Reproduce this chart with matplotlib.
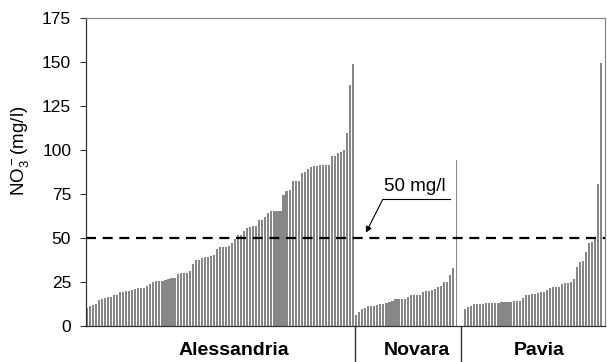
import numpy as np
import matplotlib
matplotlib.use("Agg")
import matplotlib.pyplot as plt
from matplotlib.transforms import blended_transform_factory

plt.rcParams['font.family'] = ['Liberation Sans', 'DejaVu Sans']
plt.rcParams['mathtext.default'] = 'regular'

# NO3 concentrations (mg/l), sorted per province
alessandria = [10.4, 11.4, 11.9, 12.5, 14.6, 15.5, 16.1, 16.7, 16.7, 17.4,
               17.4, 19.5, 19.5, 19.7, 20.1, 20.6, 20.8, 21.4, 21.4, 21.4,
               22.7, 23.7, 25.0, 25.6, 25.6, 25.8, 26.1, 26.9, 27.0, 27.5,
               29.5, 30.1, 30.1, 30.1, 31.2, 35.2, 37.3, 37.7, 38.4, 39.0,
               39.4, 39.8, 40.5, 43.9, 44.7, 44.7, 44.7, 45.3, 47.0, 49.2,
               51.7, 51.9, 53.8, 55.5, 56.4, 57.0, 57.0, 60.2, 60.2,
               61.7, 64.4, 65.3, 65.3, 65.3, 65.3, 74.2, 76.7, 77.3, 82.2,
               82.2, 82.2, 86.9, 87.7, 89.0, 90.2, 90.9, 91.0, 91.7, 91.7,
               91.7, 91.7, 96.4, 96.4, 98.1, 98.9, 100.0, 109.5, 137.1, 148.7]
novara = [6.3, 8.1, 9.5, 10.4, 11.4, 11.4, 11.4, 11.9, 12.3, 12.5,
          13.3, 13.6, 14.4, 15.5, 15.5, 15.5, 15.5, 16.7, 17.4, 17.4,
          17.4, 17.4, 19.5, 19.9, 20.0, 20.5, 20.8, 22.2, 22.9, 24.8,
          24.8, 29.0, 33.1, 94.3]
pavia = [9.8, 10.6, 11.4, 12.3, 12.3, 12.3, 12.3, 12.9, 13.3, 13.3,
         13.3, 13.3, 13.6, 13.6, 13.6, 13.6, 14.4, 14.4, 14.4, 15.9,
         17.4, 17.8, 18.0, 18.2, 18.9, 19.3, 19.5, 20.5, 21.4, 22.0,
         22.0, 22.0, 23.7, 24.2, 24.6, 25.2, 26.9, 33.7, 36.5, 37.1,
         42.0, 47.0, 47.9, 49.6, 80.7, 149.2]
groups = ["Alessandria", "Novara", "Pavia"]
limit = 50

fig = plt.figure(figsize=(6.07, 3.62), dpi=100)
ax = fig.add_axes([0.1412, 0.0994, 0.8555, 0.8509])

gap = 2
x_a = np.arange(len(alessandria))
x_n = np.arange(len(novara)) + len(alessandria)
x_p = np.arange(len(pavia)) + x_n[-1] + 1 + gap
bar_w = 0.7
ax.bar(x_a, alessandria, width=bar_w, color='#878787', linewidth=0)
widths_n = np.full(len(novara), bar_w)
widths_n[-1] = 0.35
ax.bar(x_n, novara, width=widths_n, color='#878787', linewidth=0)
ax.bar(x_p, pavia, width=bar_w, color='#878787', linewidth=0)

xmax = x_p[-1] + 1.2
ax.set_xlim(-0.35, xmax)
ax.set_ylim(0, 175)
ax.axhline(limit, color='black', linestyle=(0, (4.5, 3)), linewidth=1.6, zorder=3)

# group separators below the axis
trans = blended_transform_factory(ax.transData, ax.transAxes)
for xs in [x_n[0] - 0.3, x_n[-1] + 1.5]:
    ax.plot([xs, xs], [0, -0.12], color='#333333', lw=1, transform=trans, clip_on=False)
centers = [(x_a[0] + x_a[-1]) / 2 + 4.5, (x_n[0] + x_n[-1]) / 2 + 3.5, (x_p[0] + x_p[-1]) / 2 + 2]
for c, g in zip(centers, groups):
    ax.text(c, -0.08, g, transform=trans, ha='center', va='center',
            fontsize=14, fontweight='bold')

# annotation
ax.plot([97.8, 119.9], [72, 72], color='black', lw=0.8)
ax.annotate('', xy=(92.2, 53), xytext=(97.8, 72),
            arrowprops=dict(arrowstyle='-|>', color='black', lw=0.8,
                            mutation_scale=9, shrinkA=0, shrinkB=0))
ax.text(108.5, 79.5, '50 mg/l', ha='center', va='center', fontsize=13.5)

ax.set_yticks(np.arange(0, 176, 25))
ax.set_xticks([])
ax.tick_params(axis='y', labelsize=12.5, length=4.5, color='#333333', pad=6)
ax.set_ylabel(r'NO$_3^-$(mg/l)', fontsize=13.5)
ax.yaxis.set_label_coords(-0.105, 0.57)
for s in ['top', 'right']:
    ax.spines[s].set_color('#888888')
for s in ['left', 'bottom']:
    ax.spines[s].set_color('#333333')
for s in ax.spines.values():
    s.set_linewidth(0.9)

fig.savefig('out.png', dpi=100)
